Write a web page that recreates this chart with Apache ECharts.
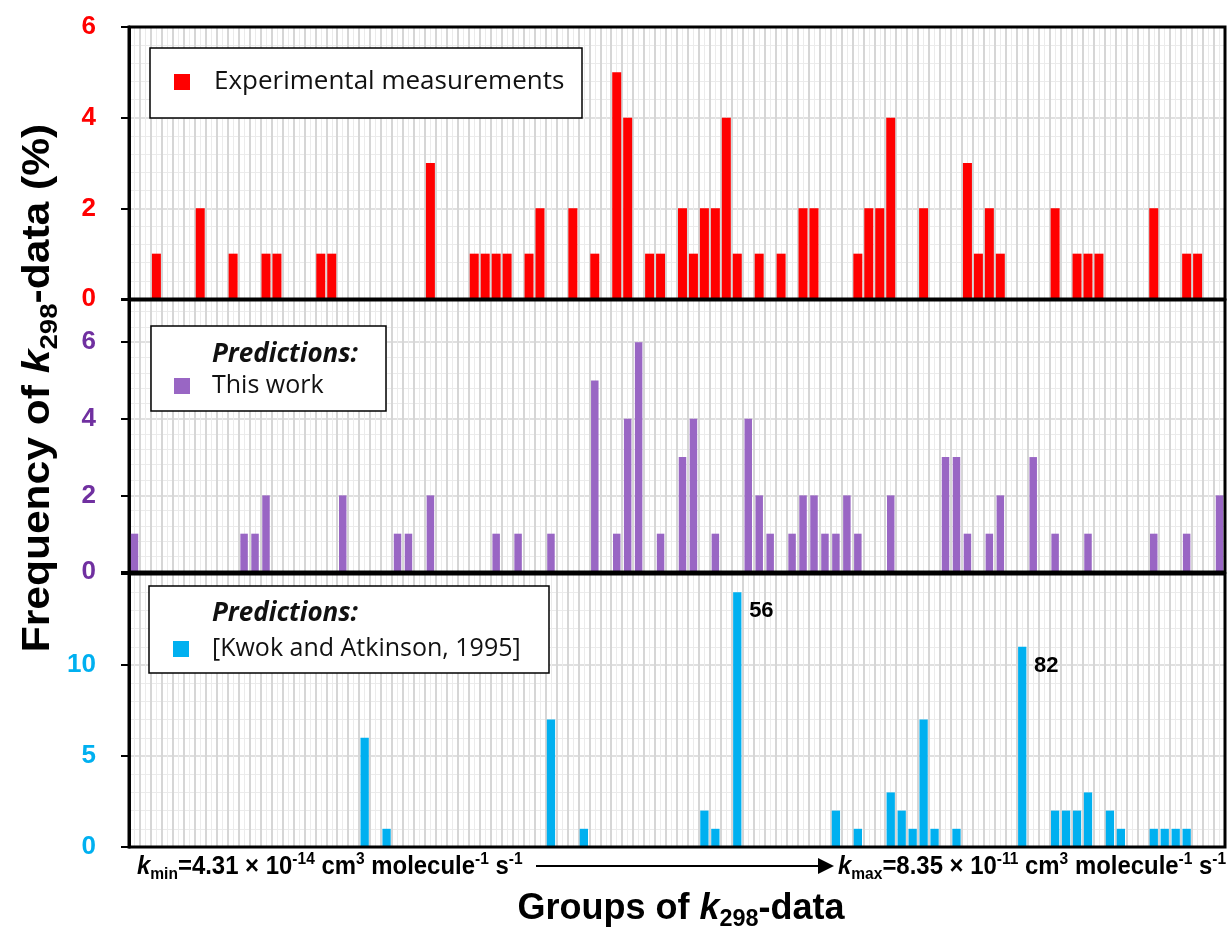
<!DOCTYPE html>
<html>
<head>
<meta charset="utf-8">
<script src="https://cdn.jsdelivr.net/npm/echarts@6/dist/echarts.min.js"></script>
<style>
html,body{margin:0;padding:0;background:#fff;}
#chart{width:1228px;height:930px;}
</style>
</head>
<body>
<div id="chart"></div>
<script>
// ---------- DATA ----------
const groups = Array.from({length: 100}, (_, i) => String(i + 1));

const experimental = [
  0,0,1,0,0,0,2,0,0,1,
  0,0,1,1,0,0,0,1,1,0,
  0,0,0,0,0,0,0,3,0,0,
  0,1,1,1,1,0,1,2,0,0,
  2,0,1,0,5,4,0,1,1,0,
  2,1,2,2,4,1,0,1,0,1,
  0,2,2,0,0,0,1,2,2,4,
  0,0,2,0,0,0,3,1,2,1,
  0,0,0,0,2,0,1,1,1,0,
  0,0,0,2,0,0,1,1,0,0
];

const thisWork = [
  1,0,0,0,0,0,0,0,0,0,
  1,1,2,0,0,0,0,0,0,2,
  0,0,0,0,1,1,0,2,0,0,
  0,0,0,1,0,1,0,0,1,0,
  0,0,5,0,1,4,6,0,1,0,
  3,4,0,1,0,0,4,2,1,0,
  1,2,2,1,1,2,1,0,0,2,
  0,0,0,0,3,3,1,0,1,2,
  0,0,3,0,1,0,0,1,0,0,
  0,0,0,1,0,0,1,0,0,2
];

const kwokAtkinson = [
  0,0,0,0,0,0,0,0,0,0,
  0,0,0,0,0,0,0,0,0,0,
  0,6,0,1,0,0,0,0,0,0,
  0,0,0,0,0,0,0,0,7,0,
  0,1,0,0,0,0,0,0,0,0,
  0,0,2,1,0,14,0,0,0,0,
  0,0,0,0,2,0,1,0,0,3,
  2,1,7,1,0,1,0,0,0,0,
  0,11,0,0,2,2,2,3,0,2,
  1,0,0,1,1,1,1,0,0,0
];

const annotatedGroups = ['56', '82'];

const yTicksExp = [0, 2, 4, 6];
const yTicksThis = [0, 2, 4, 6];
const yTicksKwok = [0, 5, 10];

// ---------- STYLE ----------
const RED = '#FF0000', PURPLE = '#9966C4', PURPLE_TXT = '#7030A0', BLUE = '#00B0F0';
const BOLD_FONT = 'Liberation Sans';
const LEG_FONT = 'Open Sans';
const PLOT_LEFT = 129, PLOT_RIGHT = 3, CHART_W = 1228;

const chart = echarts.init(document.getElementById('chart'), null, {renderer: 'canvas'});

const gridDefs = [
  {top: 27, height: 272},
  {top: 300, height: 272},
  {top: 574, height: 273}
];
const grid = gridDefs.map(g => ({
  left: PLOT_LEFT, right: PLOT_RIGHT, top: g.top, height: g.height,
  show: false
}));

const xAxis = [];
for (let i = 0; i < 3; i++) {
  xAxis.push({
    type: 'category', gridIndex: i, data: groups, boundaryGap: true,
    axisLine: {show: false}, axisTick: {show: false}, axisLabel: {show: false}, splitLine: {show: false}
  });
  xAxis.push({
    type: 'value', gridIndex: i, min: 0, max: groups.length, interval: 1,
    axisLine: {show: false}, axisTick: {show: false}, axisLabel: {show: false},
    splitLine: {show: true, lineStyle: {color: '#D6D6D6', width: 2}},
    minorTick: {show: false, splitNumber: 2},
    minorSplitLine: {show: true, lineStyle: {color: '#EBEBEB', width: 1}}
  });
}

function yAx(gridIndex, max, interval, color, ticks) {
  return {
    type: 'value', gridIndex, min: 0, max, interval,
    axisLine: {show: true, onZero: false, lineStyle: {color: '#000', width: 3}},
    axisTick: {show: true, length: 8, lineStyle: {color: '#000', width: 2}},
    axisLabel: {
      color, fontWeight: 'bold', fontSize: 26, fontFamily: BOLD_FONT, margin: 33,
      formatter: v => ticks.includes(v) ? String(v) : ''
    },
    splitLine: {show: true, lineStyle: {color: '#D6D6D6', width: 1.5}},
    minorTick: {show: false, splitNumber: 5},
    minorSplitLine: {show: true, lineStyle: {color: '#EBEBEB', width: 1}}
  };
}
const yAxis = [
  yAx(0, 6, 2, RED, yTicksExp),
  yAx(1, 7.1, 2, PURPLE_TXT, yTicksThis),
  yAx(2, 15, 5, BLUE, yTicksKwok)
];

const kwokData = kwokAtkinson.map((v, i) => annotatedGroups.includes(groups[i]) ? {
  value: v,
  label: {show: true, formatter: '{b}', position: [16, 8], color: '#000', fontWeight: 'bold', fontSize: 22, fontFamily: BOLD_FONT}
} : v);

const series = [
  {type: 'bar', name: 'Experimental measurements', xAxisIndex: 0, yAxisIndex: 0, data: experimental, barWidth: 9, itemStyle: {color: RED}, silent: true},
  {type: 'bar', name: 'This work', xAxisIndex: 2, yAxisIndex: 1, data: thisWork, barWidth: 7.5, itemStyle: {color: PURPLE}, silent: true},
  {type: 'bar', name: '[Kwok and Atkinson, 1995]', xAxisIndex: 4, yAxisIndex: 2, data: kwokData, barWidth: 8.3, itemStyle: {color: BLUE}, silent: true}
];

// rich text pieces
const boldRich = (size) => ({
  n: {fontSize: size, fontWeight: 'bold', fontFamily: BOLD_FONT, color: '#000', lineHeight: size * 1.25},
  k: {fontSize: size, fontWeight: 'bold', fontStyle: 'italic', fontFamily: BOLD_FONT, color: '#000', lineHeight: size * 1.25},
  sub: {fontSize: size * 0.65, fontWeight: 'bold', fontFamily: BOLD_FONT, color: '#000', lineHeight: size * 0.65, verticalAlign: 'bottom'},
  sup: {fontSize: size * 0.65, fontWeight: 'bold', fontFamily: BOLD_FONT, color: '#000', lineHeight: size * 0.65, verticalAlign: 'top'}
});

function legendBox(x, y, w, h) {
  return {type: 'rect', z: 50, shape: {x, y, width: w, height: h}, style: {fill: '#fff', stroke: '#000', lineWidth: 1.5}};
}
function legendText(x, y, text, opts) {
  return {type: 'text', z: 51, x, y, style: Object.assign({text, fill: '#111', font: '25px "' + LEG_FONT + '"', verticalAlign: 'middle', align: 'left'}, opts || {})};
}
function marker(x, y, color) {
  return {type: 'rect', z: 51, shape: {x, y, width: 16, height: 16}, style: {fill: color}};
}
const panelBorders = gridDefs.map(g => ({
  type: 'rect', z: 40, silent: true,
  shape: {x: PLOT_LEFT, y: g.top, width: CHART_W - PLOT_LEFT - PLOT_RIGHT, height: g.height},
  style: {fill: null, stroke: '#000', lineWidth: 3}
}));

const graphic = panelBorders.concat([
  // legends
  legendBox(150, 48, 432, 70),
  marker(174, 74, RED),
  legendText(214, 82, 'Experimental measurements', {font: '26px "' + LEG_FONT + '"'}),

  legendBox(151, 326, 235, 85),
  legendText(212, 355, 'Predictions:', {font: 'italic bold 26px "' + LEG_FONT + '"'}),
  marker(174, 378, PURPLE),
  legendText(212, 386, 'This work'),

  legendBox(149, 586, 400, 87),
  legendText(212, 614, 'Predictions:', {font: 'italic bold 26px "' + LEG_FONT + '"'}),
  marker(173, 641, BLUE),
  legendText(212, 649, '[Kwok and Atkinson, 1995]'),

  // y axis title
  {
    type: 'text', z: 60, x: 39, y: 388, rotation: Math.PI / 2, scaleX: 1.12,
    style: {
      text: '{n|Frequency of }{k|k}{sub|298}{n|-data (%)}',
      rich: boldRich(38), align: 'center', verticalAlign: 'middle'
    }
  },
  // k min / k max
  {
    type: 'text', z: 60, x: 137, y: 867, scaleX: 0.92,
    style: {
      text: '{k|k}{sub|min}{n|=4.31 × 10}{sup|-14}{n| cm}{sup|3}{n| molecule}{sup|-1}{n| s}{sup|-1}',
      rich: boldRich(26), align: 'left', verticalAlign: 'middle'
    }
  },
  {type: 'line', z: 60, shape: {x1: 536, y1: 866, x2: 822, y2: 866}, style: {stroke: '#000', lineWidth: 2}},
  {type: 'polygon', z: 60, shape: {points: [[818, 858], [834, 866], [818, 874]]}, style: {fill: '#000'}},
  {
    type: 'text', z: 60, x: 838, y: 867, scaleX: 0.92,
    style: {
      text: '{k|k}{sub|max}{n|=8.35 × 10}{sup|-11}{n| cm}{sup|3}{n| molecule}{sup|-1}{n| s}{sup|-1}',
      rich: boldRich(26), align: 'left', verticalAlign: 'middle'
    }
  },
  // x title
  {
    type: 'text', z: 60, x: 681, y: 909,
    style: {
      text: '{n|Groups of }{k|k}{sub|298}{n|-data}',
      rich: boldRich(36), align: 'center', verticalAlign: 'middle'
    }
  }
]);

chart.setOption({
  backgroundColor: '#fff',
  animation: false,
  grid, xAxis, yAxis, series, graphic
});
</script>
</body>
</html>
